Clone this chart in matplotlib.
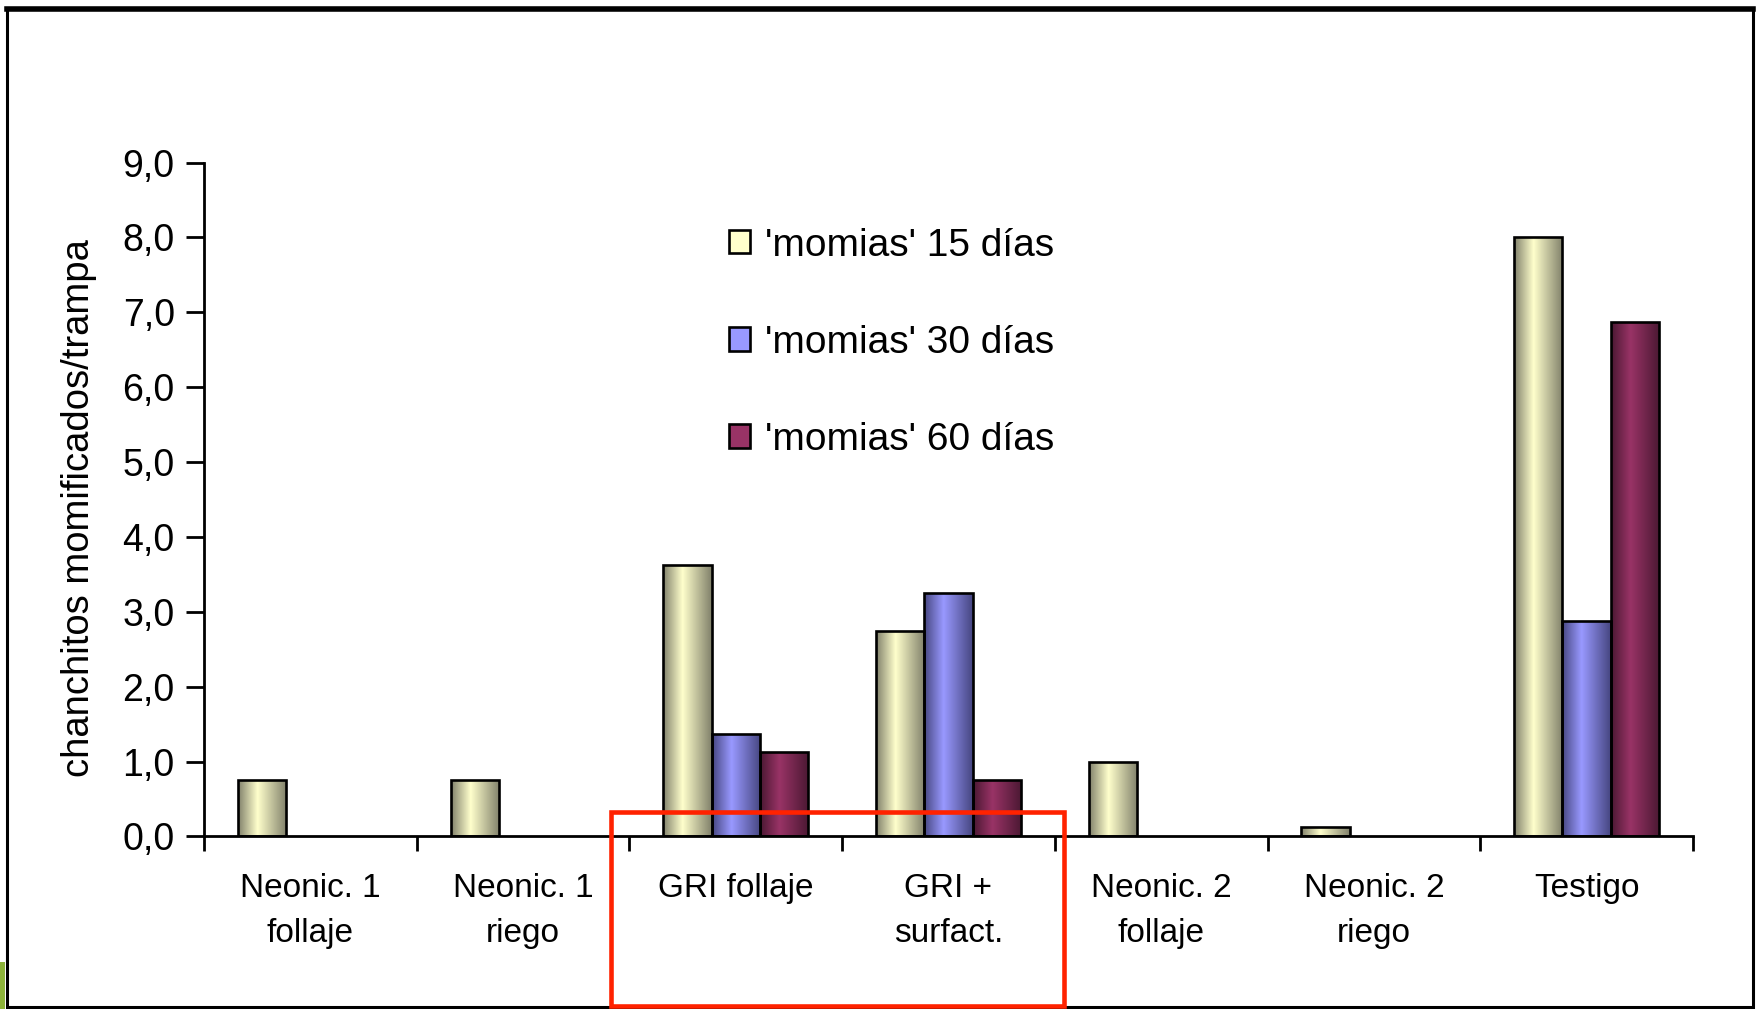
import numpy as np
import matplotlib
matplotlib.use("Agg")
import matplotlib.pyplot as plt
from matplotlib.patches import Rectangle
from matplotlib.colors import LinearSegmentedColormap

# ---- data ----
categories = ["Neonic. 1\nfollaje", "Neonic. 1\nriego", "GRI follaje", "GRI +\nsurfact.",
              "Neonic. 2\nfollaje", "Neonic. 2\nriego", "Testigo"]
series_names = ["'momias' 15 días", "'momias' 30 días", "'momias' 60 días"]
momias_15 = [0.75, 0.75, 3.625, 2.75, 1.0, 0.125, 8.0]
momias_30 = [0.0, 0.0, 1.375, 3.25, 0.0, 0.0, 2.875]
momias_60 = [0.0, 0.0, 1.125, 0.75, 0.0, 0.0, 6.875]
yticks = [0, 1, 2, 3, 4, 5, 6, 7, 8, 9]
ytick_labels = ["0,0", "1,0", "2,0", "3,0", "4,0", "5,0", "6,0", "7,0", "8,0", "9,0"]
ylabel = "chanchitos momificados/trampa"

# ---- style ----
plt.rcParams["font.family"] = ["Liberation Sans", "DejaVu Sans"]
mid_colors = ["#ffffcc", "#9999ff", "#993366"]
edge_colors = ["#80806a", "#464680", "#4a1832"]

fig = plt.figure(figsize=(17.58, 10.09), dpi=100)
ax = fig.add_axes([0.116, 0.171, 0.963 - 0.116, 0.8389 - 0.171])

n = len(categories)
x = np.arange(n)
bw = 0.227
offsets = [-bw, 0.0, bw]
all_series = [momias_15, momias_30, momias_60]

grad = np.linspace(0, 1, 256).reshape(1, -1)
handles = []
for s, (vals, name) in enumerate(zip(all_series, series_names)):
    cmap = LinearSegmentedColormap.from_list(
        f"g{s}", [(0.0, edge_colors[s]), (0.4, mid_colors[s]), (1.0, edge_colors[s])])
    bars = ax.bar(x + offsets[s], vals, width=bw, color=mid_colors[s],
                  edgecolor="black", linewidth=1.9, zorder=3, label=name)
    for rect in bars:
        h = rect.get_height()
        if h <= 0:
            rect.set_visible(False)
            continue
        rect.set_facecolor("none")
        x0 = rect.get_x()
        im = ax.imshow(grad, extent=[x0, x0 + rect.get_width(), 0, h],
                       aspect="auto", cmap=cmap, zorder=2, interpolation="bilinear")
        clip = Rectangle((x0, 0), rect.get_width(), h, transform=ax.transData)
        im.set_clip_path(clip)
    handles.append(Rectangle((0, 0), 1, 1, facecolor=mid_colors[s],
                             edgecolor="black", linewidth=1.9))

ax.set_xlim(-0.5, n - 0.5)
ax.set_ylim(0, 9)
ax.set_aspect("auto")

ax.set_yticks(yticks)
ax.set_yticklabels(ytick_labels, fontsize=27)
ax.set_ylabel(ylabel, fontsize=27.5)
ax.yaxis.set_label_coords(-0.072, 0.487)

ax.set_xticks(x)
ax.set_xticklabels(categories, fontsize=24, linespacing=1.62)
ax.tick_params(axis="x", which="major", length=0, pad=26)
ax.set_xticks(np.arange(n + 1) - 0.5, minor=True)
ax.tick_params(axis="x", which="minor", length=11, width=2, direction="out")
ax.tick_params(axis="y", length=13, width=2, direction="out", pad=8)

for side in ["top", "right"]:
    ax.spines[side].set_visible(False)
for side in ["left", "bottom"]:
    ax.spines[side].set_linewidth(2.0)
ax.spines["bottom"].set_zorder(5)

leg = ax.legend(handles, series_names, loc="upper left",
                bbox_to_anchor=(729 / 1758, 0.7745), bbox_transform=fig.transFigure,
                frameon=False, fontsize=28, labelspacing=1.57,
                handlelength=0.55, handleheight=0.55, handletextpad=0.38,
                borderpad=0, borderaxespad=0)

# outer frame of the slide
fig.add_artist(Rectangle((7 / 1758, 0.002), (1753 - 7) / 1758, 1 - 9 / 1009 - 0.002,
                         transform=fig.transFigure, fill=False,
                         edgecolor="black", linewidth=2.2))
fig.add_artist(plt.Line2D([7 / 1758, 1753 / 1758], [1 - 9 / 1009] * 2,
                          transform=fig.transFigure, color="black", linewidth=4.0))
# green bit of slide background
fig.add_artist(Rectangle((0, 0), 5 / 1758, 47 / 1009, transform=fig.transFigure,
                         facecolor="#8db33a", edgecolor="none"))

# red highlight box
fig.add_artist(Rectangle((611 / 1758, 1 - 1006 / 1009), (1064 - 611) / 1758,
                         (1006 - 812) / 1009, transform=fig.transFigure,
                         fill=False, edgecolor="#ff2200", linewidth=3.3, zorder=10))

fig.savefig("out.png", dpi=100)
